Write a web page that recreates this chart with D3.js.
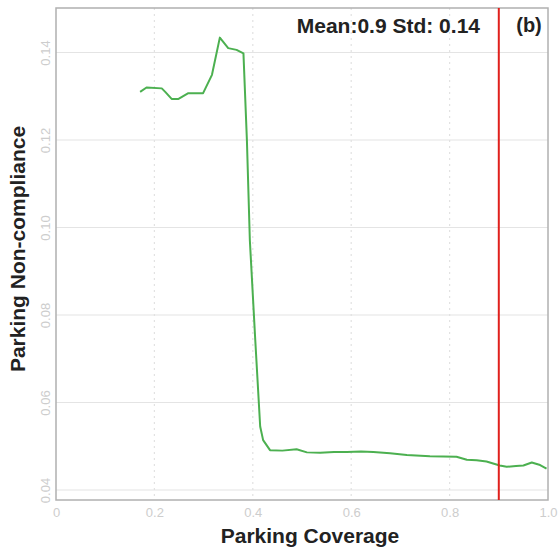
<!DOCTYPE html>
<html>
<head>
<meta charset="utf-8">
<script src="https://cdn.jsdelivr.net/npm/d3@7"></script>
<style>
  html, body { margin: 0; padding: 0; background: #fff; }
  svg { display: block; }
</style>
</head>
<body>
<svg id="chart" width="558" height="550"></svg>
<script>
// Data
const coverage = [0.171, 0.184, 0.215, 0.222, 0.235, 0.249, 0.269, 0.299, 0.317, 0.333, 0.350, 0.367, 0.381,
  0.388, 0.394, 0.405, 0.415, 0.421, 0.435, 0.460, 0.489, 0.510, 0.537, 0.565, 0.591, 0.620, 0.645, 0.679,
  0.713, 0.760, 0.814, 0.835, 0.855, 0.875, 0.902, 0.916, 0.935, 0.950, 0.967, 0.984, 0.997];
const nonCompliance = [0.1310, 0.1320, 0.1318, 0.1310, 0.1294, 0.1294, 0.1307, 0.1307, 0.1349, 0.1434, 0.1410, 0.1406, 0.1398,
  0.1200, 0.0971, 0.0743, 0.0545, 0.0514, 0.0491, 0.0490, 0.0493, 0.0486, 0.0485, 0.0487, 0.0487, 0.0488, 0.0487, 0.0484,
  0.0480, 0.0477, 0.0476, 0.0469, 0.0468, 0.0465, 0.0456, 0.0453, 0.0455, 0.0456, 0.0463, 0.0457, 0.0449];
const xTicks = [0, 0.2, 0.4, 0.6, 0.8, 1.0];
const xTickLabels = ["0", "0.2", "0.4", "0.6", "0.8", "1.0"];
const yTicks = [0.04, 0.06, 0.08, 0.10, 0.12, 0.14];
const yTickLabels = ["0.04", "0.06", "0.08", "0.10", "0.12", "0.14"];
const meanValue = 0.9;
const titleText = "Mean:0.9 Std: 0.14";
const panelTag = "(b)";
const xLabel = "Parking Coverage";
const yLabel = "Parking Non-compliance";

(function () {
const svg = d3.select("#chart");
const pLeft = 56, pRight = 548, pTop = 8, pBottom = 500;
const font = "Liberation Sans, Arial, Helvetica, sans-serif";

const x = d3.scaleLinear().domain([0, 1]).range([pLeft, pRight]);
const y = d3.scaleLinear().domain([0.04, 0.14]).range([490, 52.5]);

// horizontal gridlines
svg.append("g").selectAll("line").data(yTicks).join("line")
  .attr("x1", pLeft).attr("x2", pRight)
  .attr("y1", d => y(d)).attr("y2", d => y(d))
  .attr("stroke", "#e4e4e4").attr("stroke-width", 1.2);

// vertical dotted gridlines
svg.append("g").selectAll("line").data(xTicks.slice(1, 5)).join("line")
  .attr("x1", d => x(d)).attr("x2", d => x(d))
  .attr("y1", pTop).attr("y2", pBottom)
  .attr("stroke", "#e2e2e2").attr("stroke-width", 1.2)
  .attr("stroke-dasharray", "2,4");

// frame
svg.append("rect")
  .attr("x", pLeft).attr("y", pTop)
  .attr("width", pRight - pLeft).attr("height", pBottom - pTop)
  .attr("fill", "none").attr("stroke", "#b0b0b0").attr("stroke-width", 1.5);

// axes (tick labels only)
const xAxis = d3.axisBottom(x).tickValues(xTicks)
  .tickFormat((d, i) => xTickLabels[i]).tickSize(0).tickPadding(8);
const gx = svg.append("g").attr("transform", `translate(0,${pBottom})`).call(xAxis);
gx.select(".domain").remove();
gx.selectAll("text").attr("fill", "#cdcdcd").attr("font-size", 13)
  .attr("font-family", font);

const yAxis = d3.axisLeft(y).tickValues(yTicks)
  .tickFormat((d, i) => yTickLabels[i]).tickSize(0).tickPadding(0);
const gy = svg.append("g").attr("transform", `translate(${pLeft},0)`).call(yAxis);
gy.select(".domain").remove();
gy.selectAll("text")
  .attr("fill", "#cdcdcd").attr("font-size", 13)
  .attr("font-family", font)
  .attr("x", null).attr("dy", null)
  .attr("text-anchor", "middle")
  .attr("transform", "translate(-6,0) rotate(-90)");

// data line
const line = d3.line().x((d, i) => x(coverage[i])).y(d => y(d)).curve(d3.curveLinear);
svg.append("path")
  .datum(nonCompliance)
  .attr("d", line)
  .attr("fill", "none")
  .attr("stroke", "#4cb050")
  .attr("stroke-width", 2)
  .attr("stroke-linejoin", "round");

// mean line
svg.append("line")
  .attr("x1", x(meanValue)).attr("x2", x(meanValue))
  .attr("y1", pTop).attr("y2", pBottom)
  .attr("stroke", "#e0201c").attr("stroke-width", 2);

// title texts
svg.append("text")
  .attr("x", 480).attr("y", 33)
  .attr("text-anchor", "end")
  .attr("font-family", font)
  .attr("font-weight", "bold").attr("font-size", 21)
  .attr("fill", "#222")
  .text(titleText);
svg.append("text")
  .attr("x", 529).attr("y", 32)
  .attr("text-anchor", "middle")
  .attr("font-family", font)
  .attr("font-weight", "bold").attr("font-size", 20)
  .attr("fill", "#222")
  .text(panelTag);

// axis labels
svg.append("text")
  .attr("x", 310).attr("y", 543)
  .attr("text-anchor", "middle")
  .attr("font-family", font)
  .attr("font-weight", "bold").attr("font-size", 21)
  .attr("fill", "#222")
  .text(xLabel);
svg.append("text")
  .attr("transform", "translate(25,249) rotate(-90)")
  .attr("text-anchor", "middle")
  .attr("font-family", font)
  .attr("font-weight", "bold").attr("font-size", 21)
  .attr("fill", "#222")
  .text(yLabel);
})();
</script>
</body>
</html>
